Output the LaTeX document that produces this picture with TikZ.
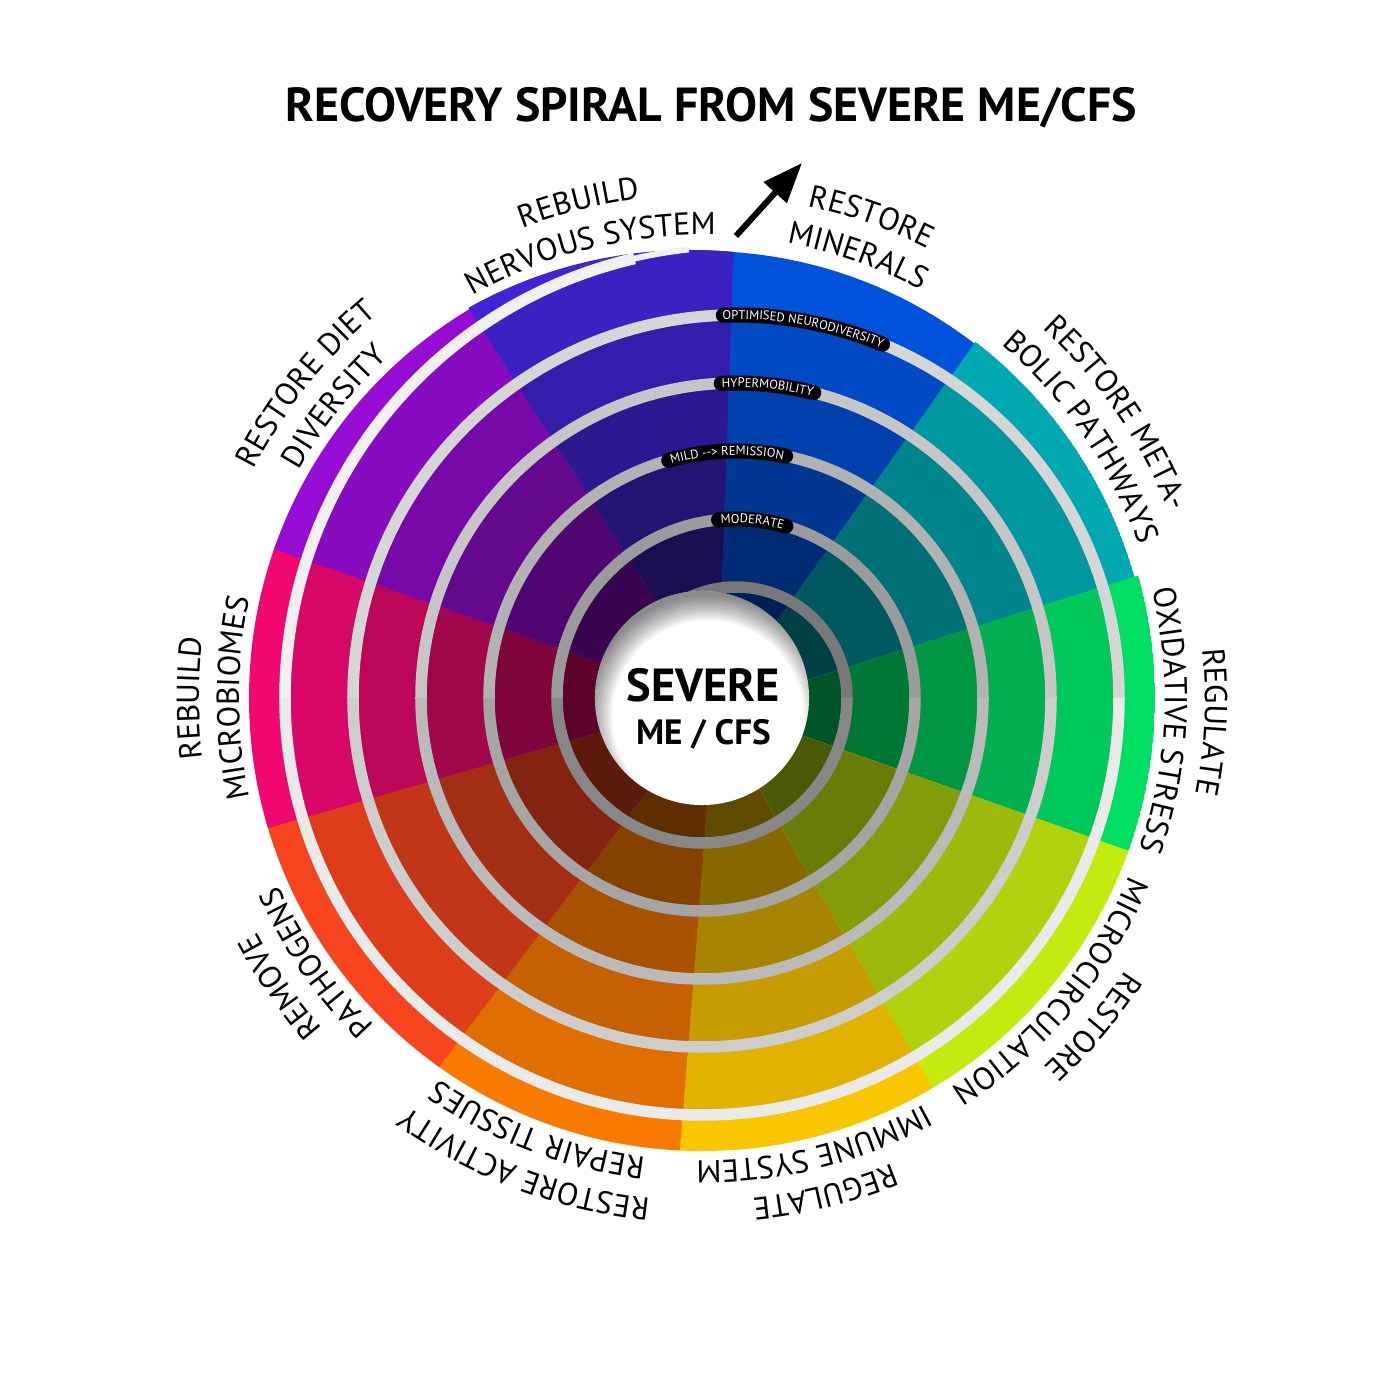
\documentclass[tikz,border=0pt]{standalone}
\usepackage{fontspec}
\setmainfont{PT Sans}
\usetikzlibrary{arrows.meta,decorations.text}

\definecolor{secblue}{RGB}{0,82,220}
\definecolor{secteal}{RGB}{0,168,178}
\definecolor{secgreen}{RGB}{0,222,100}
\definecolor{seclime}{RGB}{196,235,15}
\definecolor{secyellow}{RGB}{250,198,0}
\definecolor{secorange}{RGB}{250,122,0}
\definecolor{secred}{RGB}{245,68,30}
\definecolor{secpink}{RGB}{240,8,112}
\definecolor{secpurple}{RGB}{150,12,212}
\definecolor{secindigo}{RGB}{66,36,216}

% one turn of the spiral, closed along the top seam
\newcommand\zturn[3]{([shift={(34,0)}]#2:{#1-34}) arc[start angle=#2,end angle=0,radius={#1-34}] arc[start angle=0,end angle=-180,radius=#1] arc[start angle=180,end angle=#3,radius={#1+34}] -- cycle}

\newcommand\labelfont{\fontsize{9}{10}\selectfont}
\newcommand\ringfont{\fontsize{3.6}{4}\selectfont\color{white}}

\newcommand\sectorlabel[3]{%
  \path[decorate,decoration={text along path,text align=center,text={|\labelfont|#2}}]
    ({130-#1}:503) arc[start angle={130-#1},end angle={50-#1},radius=503];
  \path[decorate,decoration={text along path,text align=center,text={|\labelfont|#3}}]
    ({130-#1}:463) arc[start angle={130-#1},end angle={50-#1},radius=463];
}

\newcommand\ringlabel[4]{%
  \draw[ringpill] ({#1+#3}:#2) arc[start angle={#1+#3},end angle={#1-#3},radius=#2];
  \path[decorate,decoration={text along path,text align=center,text={|\ringfont|#4}}]
    ({#1+30}:{#2-4}) arc[start angle={#1+30},end angle={#1-30},radius={#2-4}];
}

\tikzset{
  spiralline/.style={line width=1.15mm},
  ringpill/.style={line width=1.5mm,black,line cap=round}
}

\begin{document}
\begin{tikzpicture}[x=0.01cm,y=0.01cm]
\useasboundingbox (-702,-702) rectangle (698,698);

% coloured sectors, darker towards the middle
\foreach \c/\ta/\tb/\tc/\td/\ox/\oy/\rr in {
  secblue/9.7/3.2/45.2/38.3/0/0/447,
  secteal/44.4/37.5/81.2/75.1/0/0/449,
  secgreen/80.4/74.3/111.4/110.5/0/0/453,
  seclime/110.6/109.7/148.7/150.2/0/0/453,
  secyellow/147.9/149.4/178.1/183.6/0/0/453,
  secorange/177.3/182.8/211.2/216.3/0/0/453,
  secred/210.4/215.5/252.4/254.1/0/0/453,
  secpink/251.6/253.3/290.2/290.0/0/0/453,
  secpurple/289.4/289.2/335.7/329.9/0/0/453,
  secindigo/334.9/329.1/370.5/364.0/-12/-5/453}{
  \begin{scope}
    \clip (0,0) -- ({90-\ta}:108) -- ({90-\tb}:452) -- ({90-\tb}:620)
      -- ({90-\td}:620) -- ({90-\td}:452) -- ({90-\tc}:108) -- cycle;
    \clip (\ox,\oy) circle (\rr);
    \fill[\c] (\ox,\oy) circle (\rr);
    \fill[\c!90!black] \zturn{417}{90.7}{90.3};
    \fill[\c!79!black] \zturn{349}{91.3}{90.7};
    \fill[\c!67!black] \zturn{281}{92.2}{91.3};
    \fill[\c!53!black] \zturn{213}{93.8}{92.2};
    \fill[\c!38!black] \zturn{145}{97.3}{93.8};
  \end{scope}
}

% the spiral
\draw[spiralline,line cap=round,color={rgb,255:red,120;green,120;blue,120}]
  ([shift={(34,0)}]114.5:111) arc[start angle=114.5,end angle=0,radius=111];
\foreach \r/\ga/\gb/\e in {145/135/155/0, 213/165/178/0, 281/186/198/0, 349/205/214/0, 417/234/240/103}{
  \draw[spiralline,color={rgb,255:red,\ga;green,\ga;blue,\ga}]
    (\r,0) arc[start angle=0,end angle=-180,radius=\r];
  \draw[spiralline,color={rgb,255:red,\gb;green,\gb;blue,\gb}]
    (-\r,0) arc[start angle=180,end angle=\e,radius={\r+34}];
}
\draw[line width=0.6mm,color={rgb,255:red,240;green,240;blue,240}]
  ([shift={(34,0)}]103.5:451) arc[start angle=103.5,end angle=96,radius=451];

% the hole with its soft inner shadow
\node[circle,minimum size=2.14cm,inner sep=0pt,fill=white] (hole) at (0,0) {};
\begin{scope}
  \clip (hole.center) circle (107);
  \foreach \w in {40,44,...,88}
    \draw[black,opacity=0.045,line width=\w*0.1mm] (6,-18) circle (140);
\end{scope}
\node (severe) at (1,13) {\fontsize{13.2}{15}\selectfont\bfseries SEVERE};
\node (mecfs) at (1.5,-36) {\fontsize{10}{12}\selectfont\bfseries ME / CFS};

% stage labels on the spiral
\begin{scope}[shift={(34,0)}]
  \ringlabel{84.7}{179}{10.9}{MODERATE}
  \ringlabel{92.1}{247}{13.7}{MILD --> REMISSION}
  \ringlabel{84.2}{315}{8.5}{HYPERMOBILITY}
  \ringlabel{79.7}{383}{12.2}{OPTIMISED NEURODIVERSITY}
\end{scope}

% sector labels
\sectorlabel{346}{REBUILD}{NERVOUS SYSTEM}
\sectorlabel{19.4}{RESTORE}{MINERALS}
\sectorlabel{55.5}{RESTORE META-}{BOLIC PATHWAYS}
\sectorlabel{92.7}{REGULATE}{OXIDATIVE STRESS}
\sectorlabel{130}{RESTORE}{MICROCIRCULATION}
\sectorlabel{166}{REGULATE}{IMMUNE SYSTEM}
\sectorlabel{200.8}{RESTORE ACTIVITY}{REPAIR TISSUES}
\sectorlabel{235.6}{REMOVE}{PATHOGENS}
\sectorlabel{270}{REBUILD}{MICROBIOMES}
\sectorlabel{308.4}{RESTORE DIET}{DIVERSITY}

\node (title) at (9.5,590) {\fontsize{13.6}{16}\selectfont\bfseries RECOVERY SPIRAL FROM SEVERE ME/CFS};

\coordinate (arrowfoot) at (34,462);
\coordinate (arrowtip) at (100,535);
\draw[-{Triangle[length=0.4cm,width=0.3cm]},line width=0.06cm] (arrowfoot) -- (arrowtip);
\end{tikzpicture}
\end{document}
